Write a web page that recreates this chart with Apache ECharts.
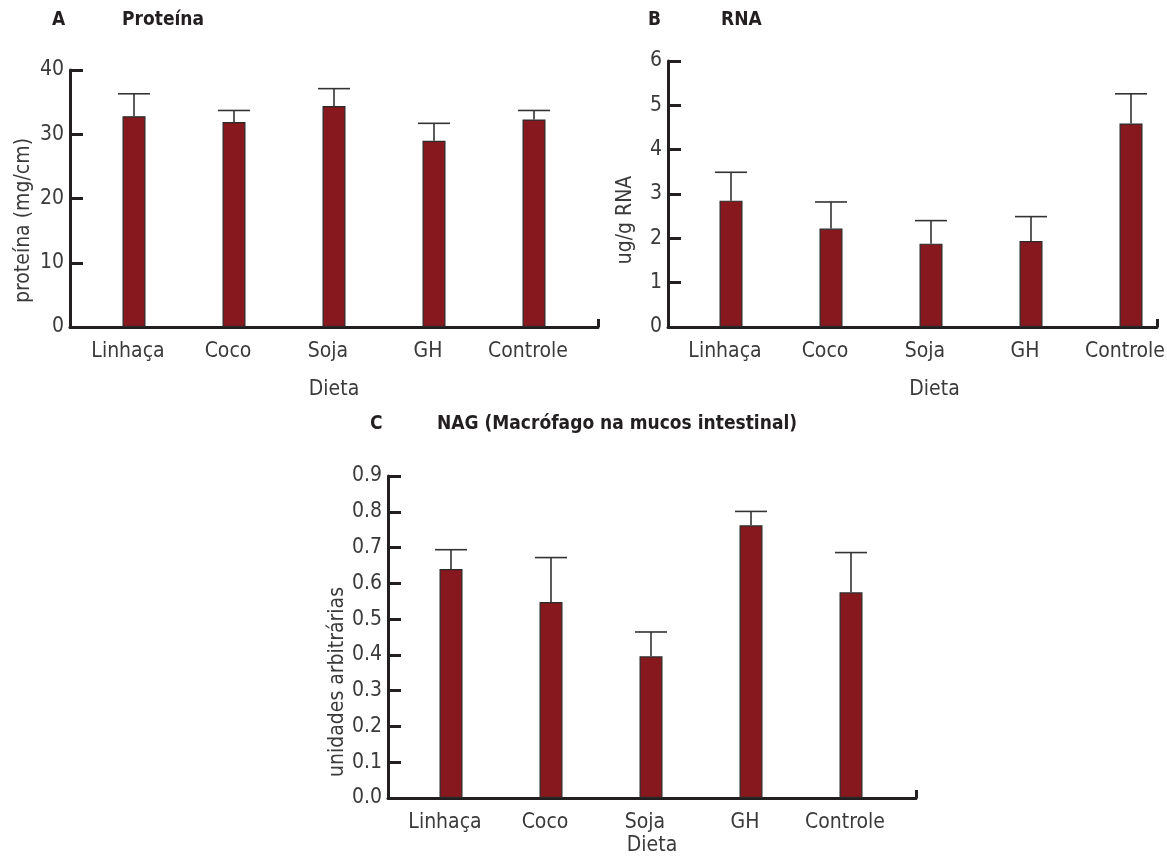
<!DOCTYPE html>
<html>
<head>
<meta charset="utf-8">
<title>Proteína, RNA e NAG por dieta</title>
<script src="https://cdn.jsdelivr.net/npm/echarts@6/dist/echarts.min.js"></script>
<style>
  html, body { margin: 0; padding: 0; background: #fff; }
  #chart { width: 1167px; height: 859px; }
</style>
</head>
<body>
<div id="chart"></div>
<script>
// valores (média e erro superior)
var dieta = ['Linhaça', 'Coco', 'Soja', 'GH', 'Controle'];

var proteinaMedia = [32.8, 31.9, 34.4, 29.0, 32.3];
var proteinaErro = [3.5, 1.8, 2.7, 2.7, 1.4];
var proteinaTicks = [0, 10, 20, 30, 40];

var rnaMedia = [2.85, 2.22, 1.88, 1.94, 4.59];
var rnaErro = [0.64, 0.60, 0.52, 0.55, 0.67];
var rnaTicks = [0, 1, 2, 3, 4, 5, 6];

var nagMedia = [0.640, 0.548, 0.396, 0.762, 0.575];
var nagErro = [0.054, 0.124, 0.068, 0.039, 0.111];
var nagTicks = [0, 0.1, 0.2, 0.3, 0.4, 0.5, 0.6, 0.7, 0.8, 0.9];

var FONTE = "'Liberation Sans Narrow', 'DejaVu Sans Condensed', 'Roboto', sans-serif";
var COR_EIXO = '#231f20';
var COR_TEXTO = '#3a3a3a';
var COR_BARRA = '#87181e';
var TAM = 21;

var chart = echarts.init(document.getElementById('chart'));

function eixoX(i, min, max, gap, desloc) {
  return {
    type: 'value',
    gridIndex: i,
    min: min,
    max: max,
    name: 'Dieta',
    nameLocation: 'middle',
    nameGap: gap,
    nameTextStyle: {
      fontFamily: FONTE, fontSize: TAM, color: COR_TEXTO,
      padding: desloc ? [0, 0, 0, desloc] : 0
    },
    axisLine: { show: true, onZero: false, lineStyle: { color: COR_EIXO, width: 3 } },
    axisTick: {
      show: true, inside: true, length: 8, customValues: [max],
      lineStyle: { color: COR_EIXO, width: 3 }
    },
    axisLabel: {
      customValues: [0, 1, 2, 3, 4],
      formatter: function (v) { return dieta[Math.round(v)]; },
      margin: 14,
      padding: [0, 12, 0, 0],
      fontFamily: FONTE, fontSize: TAM, color: COR_TEXTO
    },
    splitLine: { show: false }
  };
}

// desc: quanto o título do eixo desce em relação ao centro
function eixoY(i, ticks, nome, gap, desc, casas) {
  return {
    type: 'value',
    gridIndex: i,
    min: ticks[0],
    max: ticks[ticks.length - 1],
    interval: ticks[1] - ticks[0],
    name: nome,
    nameLocation: 'middle',
    nameRotate: 90,
    nameGap: gap,
    nameTextStyle: {
      fontFamily: FONTE, fontSize: TAM, color: COR_TEXTO,
      padding: [0, desc * 2, 0, 0]
    },
    axisLine: { show: true, onZero: false, lineStyle: { color: COR_EIXO, width: 3 } },
    axisTick: { show: true, inside: true, length: 13, lineStyle: { color: COR_EIXO, width: 3 } },
    axisLabel: {
      margin: 6,
      fontFamily: FONTE, fontSize: TAM, color: COR_TEXTO,
      formatter: function (v) { return casas ? v.toFixed(casas) : String(v); }
    },
    splitLine: { show: false }
  };
}

function barras(i, media) {
  return {
    type: 'bar',
    xAxisIndex: i,
    yAxisIndex: i,
    barWidth: 23,
    silent: true,
    itemStyle: { color: COR_BARRA, borderColor: '#2b2b2b', borderWidth: 1.2 },
    data: media.map(function (v, k) { return [k, v]; })
  };
}

function erros(i, media, erro) {
  return {
    type: 'custom',
    xAxisIndex: i,
    yAxisIndex: i,
    silent: true,
    z: 3,
    clip: false,
    data: media.map(function (v, k) { return [k, v, v + erro[k]]; }),
    renderItem: function (params, api) {
      var base = api.coord([api.value(0), api.value(1)]);
      var topo = api.coord([api.value(0), api.value(2)]);
      var meia = 16;
      var estilo = { stroke: '#333', lineWidth: 1.6 };
      return {
        type: 'group',
        children: [
          { type: 'line', shape: { x1: base[0], y1: base[1], x2: topo[0], y2: topo[1] }, style: estilo },
          { type: 'line', shape: { x1: topo[0] - meia, y1: topo[1], x2: topo[0] + meia, y2: topo[1] }, style: estilo }
        ]
      };
    }
  };
}

var tituloEstilo = { fontFamily: FONTE, fontWeight: 'bold', fontSize: 19, color: COR_EIXO };

var option = {
  backgroundColor: '#fff',
  animation: false,
  title: [
    { text: 'A', left: 52, top: 11, padding: 0, textStyle: tituloEstilo },
    { text: 'Proteína', left: 122, top: 11, padding: 0, textStyle: tituloEstilo },
    { text: 'B', left: 648, top: 11, padding: 0, textStyle: tituloEstilo },
    { text: 'RNA', left: 721, top: 11, padding: 0, textStyle: tituloEstilo },
    { text: 'C', left: 370, top: 415, padding: 0, textStyle: tituloEstilo },
    { text: 'NAG (Macrófago na mucos intestinal)', left: 437, top: 415, padding: 0, textStyle: tituloEstilo }
  ],
  grid: [
    { left: 70, top: 70, width: 528, height: 257, outerBoundsMode: 'none' },
    { left: 668, top: 61, width: 489, height: 266, outerBoundsMode: 'none' },
    { left: 388, top: 476, width: 528, height: 322, outerBoundsMode: 'none' }
  ],
  xAxis: [
    eixoX(0, -0.64, 4.64, 52),
    eixoX(1, -0.63, 4.26, 52, 44),
    eixoX(2, -0.63, 4.65, 37)
  ],
  yAxis: [
    eixoY(0, proteinaTicks, 'proteína (mg/cm)', 36, 22, 0),
    eixoY(1, rnaTicks, 'ug/g RNA', 32, 26, 0),
    eixoY(2, nagTicks, 'unidades arbitrárias', 40, 45, 1)
  ],
  series: [
    barras(0, proteinaMedia), erros(0, proteinaMedia, proteinaErro),
    barras(1, rnaMedia), erros(1, rnaMedia, rnaErro),
    barras(2, nagMedia), erros(2, nagMedia, nagErro)
  ]
};

chart.setOption(option);
window.addEventListener('resize', function () { chart.resize(); });
</script>
</body>
</html>
